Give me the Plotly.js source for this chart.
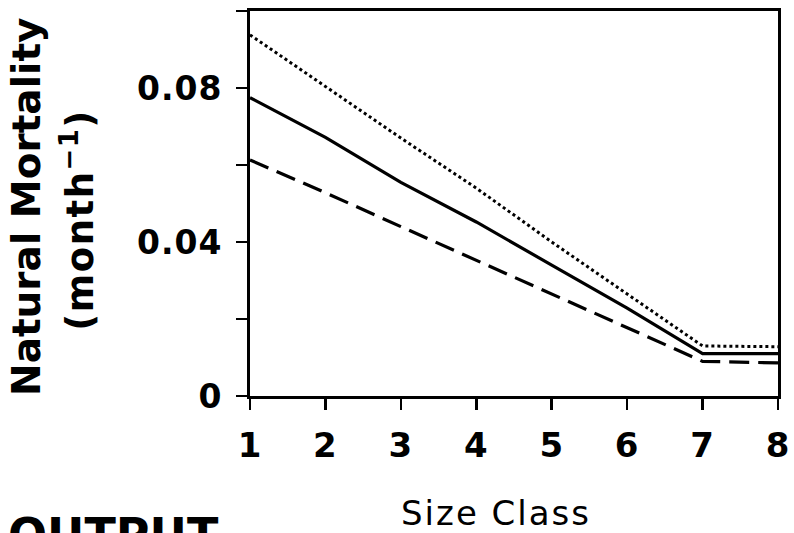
<!DOCTYPE html>
<html>
<head>
<meta charset="utf-8">
<script src="https://cdn.plot.ly/plotly-3.0.1.min.js"></script>
<style>
html,body{margin:0;padding:0;background:#fff;}
#chart{width:794px;height:533px;}
#chart .xtick text, #chart .ytick text{letter-spacing:1px;}
#chart g.annotation[data-index="1"] text{letter-spacing:1.5px;}
#chart g.annotation[data-index="2"] text{letter-spacing:2px;}
</style>
</head>
<body>
<div id="chart"></div>
<script>
// Data
var sizeClass = [1, 2, 3, 4, 5, 6, 7, 8];
var mortalitySolid  = [0.0775, 0.0672, 0.0555, 0.0452, 0.0340, 0.0228, 0.0110, 0.0110];
var mortalityDotted = [0.0938, 0.0805, 0.0670, 0.0540, 0.0400, 0.0265, 0.0130, 0.0128];
var mortalityDashed = [0.0613, 0.0528, 0.0440, 0.0352, 0.0265, 0.0178, 0.0090, 0.0086];
var yTickVals = [0, 0.02, 0.04, 0.06, 0.08, 0.10];
var yTickText = ['0', '', '0.04', '', '0.08', ''];
var xTickVals = [1, 2, 3, 4, 5, 6, 7, 8];
var xTickText = ['1', '2', '3', '4', '5', '6', '7', '8'];

var FONT = 'DejaVu Sans, Arial, sans-serif';

var traces = [
  {x: sizeClass, y: mortalityDotted, mode: 'lines', line: {color: '#000', width: 3, dash: 'dot'}, hoverinfo: 'skip'},
  {x: sizeClass, y: mortalitySolid, mode: 'lines', line: {color: '#000', width: 3.2}, hoverinfo: 'skip'},
  {x: sizeClass, y: mortalityDashed, mode: 'lines', line: {color: '#000', width: 3.2, dash: '20px,9px'}, hoverinfo: 'skip'}
];

var layout = {
  width: 794, height: 533,
  margin: {l: 250, r: 16, t: 11, b: 137},
  paper_bgcolor: '#fff', plot_bgcolor: '#fff',
  showlegend: false,
  xaxis: {
    range: [1, 8], tickmode: 'array', tickvals: xTickVals, ticktext: xTickText,
    ticks: 'outside', ticklen: 11, tickwidth: 2.5, tickcolor: '#000',
    showline: true, linecolor: '#000', linewidth: 3, mirror: true,
    showgrid: false, zeroline: false,
    tickfont: {family: FONT, size: 34, color: '#000', weight: 'bold'},
    ticklabelstandoff: 6
  },
  yaxis: {
    range: [0, 0.1], tickmode: 'array', tickvals: yTickVals, ticktext: yTickText,
    ticks: 'outside', ticklen: 11, tickwidth: 2.5, tickcolor: '#000',
    showline: true, linecolor: '#000', linewidth: 3, mirror: true,
    showgrid: false, zeroline: false,
    tickfont: {family: FONT, size: 33, color: '#000', weight: 'bold'},
    ticklabelstandoff: 7
  },
  annotations: [
    {text: 'Natural Mortality', xref: 'paper', yref: 'paper', x: -0.4223, y: 0.491,
     xanchor: 'center', yanchor: 'middle', textangle: -90, showarrow: false,
     font: {family: FONT, size: 39, color: '#000', weight: 'bold'}},
    {text: '(month<sup>−1</sup>)', xref: 'paper', yref: 'paper', x: -0.326, y: 0.457,
     xanchor: 'center', yanchor: 'middle', textangle: -90, showarrow: false,
     font: {family: FONT, size: 37, color: '#000', weight: 'bold'}},
    {text: 'Size Class', xref: 'paper', yref: 'paper', x: 0.466, y: -0.305,
     xanchor: 'center', yanchor: 'middle', showarrow: false,
     font: {family: FONT, size: 34, color: '#000'}},
    {text: 'OUTPUT', xref: 'paper', yref: 'paper', x: -0.462, y: -0.36,
     xanchor: 'left', yanchor: 'middle', showarrow: false,
     font: {family: FONT, size: 46, color: '#000', weight: 'bold'}}
  ]
};

Plotly.newPlot('chart', traces, layout, {staticPlot: true, displayModeBar: false});
</script>
</body>
</html>
